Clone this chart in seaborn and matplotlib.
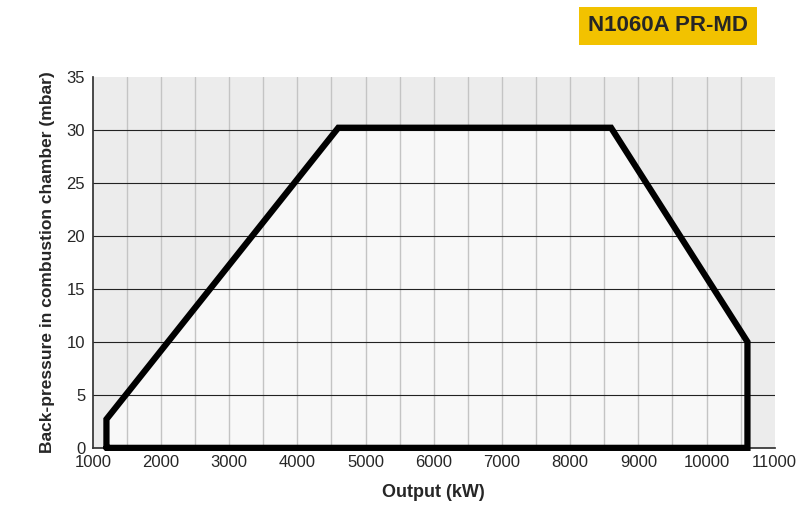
import matplotlib
matplotlib.use("Agg")
import matplotlib.pyplot as plt
import seaborn as sns
import pandas as pd

sns.set_theme(style="white")
plt.rcParams['font.family'] = ['Liberation Sans', 'DejaVu Sans']

output_kw = [1200, 1200, 4600, 8600, 10600, 10600, 1200]
pressure_mbar = [0, 2.7, 30.2, 30.2, 10, 0, 0]
xticks = list(range(1000, 11001, 1000))
yticks = list(range(0, 36, 5))
df = pd.DataFrame({"Output (kW)": output_kw, "p": pressure_mbar,
                   "order": range(len(output_kw))})

fig = plt.figure(figsize=(8.07, 5.30), dpi=100)
ax = fig.add_axes([0.115, 0.155, 0.845, 0.70])
ax.set_facecolor("#ececec")
ax.fill(df["Output (kW)"], df["p"], color="#f8f8f8", zorder=1)
sns.lineplot(data=df, x="Output (kW)", y="p", sort=False, estimator=None, color="black", lw=4.5,
             ax=ax, zorder=3, solid_joinstyle="miter", clip_on=False)
ax.set_xlim(1000, 11000)
ax.set_ylim(0, 35)
for xv in range(1500, 11000, 500):
    ax.axvline(xv, color="#c4c4c4", lw=1, zorder=2)
for yv in yticks[1:-1]:
    ax.axhline(yv, color="#222222", lw=0.8, zorder=2)
ax.set_xticks(xticks)
ax.set_yticks(yticks)
ax.tick_params(labelsize=12, length=4, direction="inout", color="black", width=1)
for s in ["top", "right"]:
    ax.spines[s].set_visible(False)
for s in ["left", "bottom"]:
    ax.spines[s].set_color("#333333")
ax.set_xlabel("Output (kW)", fontsize=13, fontweight="bold", labelpad=10)
ax.set_ylabel("Back-pressure in combustion chamber (mbar)", fontsize=12.5, fontweight="bold", labelpad=8)
fig.text(0.828, 0.951, "N1060A PR-MD", ha="center", va="center", fontsize=16, fontweight="bold",
         bbox=dict(boxstyle="square,pad=0.4", fc="#f2c200", ec="none"))
fig.savefig("out.png", dpi=100, facecolor="white")
